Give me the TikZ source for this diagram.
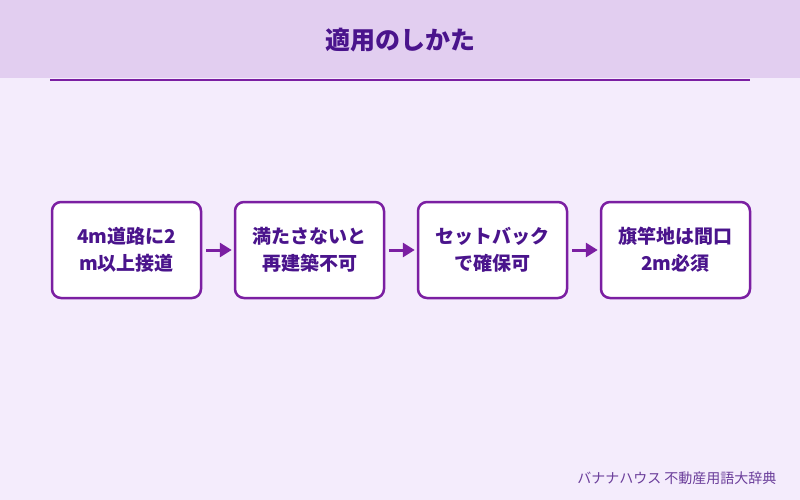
\documentclass[tikz,border=0pt]{standalone}
\usepackage{fontspec}
\setmainfont{Noto Sans CJK JP}
\usetikzlibrary{positioning,arrows.meta}
\definecolor{headerbg}{HTML}{E2CEF0}
\definecolor{pagebg}{HTML}{F4ECFC}
\definecolor{accent}{HTML}{7B1FA2}
\definecolor{textdark}{HTML}{4A148C}
\definecolor{footgray}{HTML}{6A3D9A}

\begin{document}
\begin{tikzpicture}[x=1pt, y=-1pt,
    stepbox/.style={draw=accent, line width=2.5pt, fill=white, rounded corners=9pt,
        minimum width=149pt, minimum height=96pt, align=center, text=textdark,
        font=\bfseries\fontsize{19}{27}\selectfont},
    flow/.style={accent, line width=3pt, -{Triangle[length=12pt, width=14pt]},
        shorten <=4pt, shorten >=2pt},
    node distance=31.5pt]
    % Page background and header band
    \fill[pagebg] (0,0) rectangle (800,500);
    \fill[headerbg] (0,0) rectangle (800,78);
    \useasboundingbox (0,0) rectangle (800,500);

    % Title with its rule below
    \node[text=textdark, font=\bfseries\fontsize{25}{28}\selectfont] (title) at (400,40) {適用のしかた};
    \draw[accent, line width=2pt] (50,80.5) -- (750,80.5);

    % Steps from left to right
    \node[stepbox] (road) at (126.5,250) {4m道路に2\\m以上接道};
    \node[stepbox, right=of road] (rebuild) {満たさないと\\再建築不可};
    \node[stepbox, right=of rebuild] (setback) {セットバック\\で確保可};
    \node[stepbox, right=of setback] (flag) {旗竿地は間口\\2m必須};

    % Arrows between the steps
    \draw[flow] (road) -- (rebuild);
    \draw[flow] (rebuild) -- (setback);
    \draw[flow] (setback) -- (flag);

    % Footer credit
    \node[anchor=east, text=footgray, font=\fontsize{14}{16}\selectfont] (credit) at (780,478) {バナナハウス 不動産用語大辞典};
\end{tikzpicture}
\end{document}
